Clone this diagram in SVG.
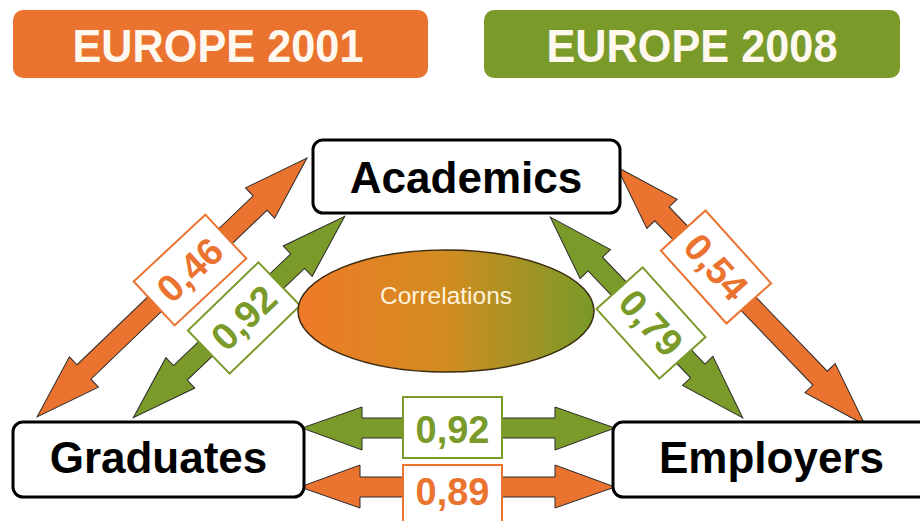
<svg xmlns="http://www.w3.org/2000/svg" width="920" height="521" viewBox="0 0 920 521">
<defs>
<linearGradient id="corr" x1="0" y1="0" x2="1" y2="0">
<stop offset="0" stop-color="#F07A28"/>
<stop offset="0.5" stop-color="#D28C20"/>
<stop offset="1" stop-color="#789A28"/>
</linearGradient>
</defs>
<style>
.hdr{font-family:"Liberation Sans",Arial,sans-serif;font-weight:bold;font-size:46px;fill:#FFF8EE;text-anchor:middle}
.node rect{fill:#FFFFFF;stroke:#000000;stroke-width:3}
.node text{font-family:"Liberation Sans",Arial,sans-serif;font-weight:bold;font-size:44px;fill:#000000;text-anchor:middle}
.arr{stroke:#2b2b2b;stroke-width:1;stroke-linejoin:miter}
.or{fill:#EB7330}
.gr{fill:#7A9A2A}
.lbl rect{fill:#FFFFFF;stroke-width:2}
.lbl text{font-family:"Liberation Sans",Arial,sans-serif;font-weight:bold;font-size:38px;text-anchor:middle}
.lo rect{stroke:#EB7330}
.lo text{fill:#EB7330}
.lg rect{stroke:#7A9A2A}
.lg text{fill:#7A9A2A}
</style>

<g id="header-2001">
<rect x="13" y="10" width="415" height="68" rx="10" fill="#EB7330"/>
<text class="hdr" x="218" y="62" textLength="291" lengthAdjust="spacingAndGlyphs">EUROPE 2001</text>
</g>
<g id="header-2008">
<rect x="484" y="10" width="416" height="68" rx="10" fill="#7A9A2A"/>
<text class="hdr" x="692" y="62" textLength="291" lengthAdjust="spacingAndGlyphs">EUROPE 2008</text>
</g>

<g id="connectors">
<!-- Graduates - Academics 2001 (orange) -->
<polygon class="arr or" transform="translate(172,287.5) rotate(-43.8)" points="-187,0 -122,-21 -122,-10 122,-10 122,-21 187,0 122,21 122,10 -122,10 -122,21"/>
<!-- Graduates - Academics 2008 (green) -->
<polygon class="arr gr" transform="translate(239,317) rotate(-43.6)" points="-146,0 -81,-21 -81,-10 81,-10 81,-21 146,0 81,21 81,10 -81,10 -81,21"/>
<!-- Academics - Employers 2008 (green) -->
<polygon class="arr gr" transform="translate(646.5,317.5) rotate(46.2)" points="-139,0 -74,-21 -74,-10 74,-10 74,-21 139,0 74,21 74,10 -74,10 -74,21"/>
<!-- Academics - Employers 2001 (orange) -->
<polygon class="arr or" transform="translate(741,296) rotate(46.1)" points="-179,0 -114,-21 -114,-10 114,-10 114,-21 179,0 114,21 114,10 -114,10 -114,21"/>
<!-- Graduates - Employers 2008 (green) -->
<polygon class="arr gr" points="302,428 362,407 362,418 555,418 555,407 615,428 555,450 555,438 362,438 362,450"/>
<!-- Graduates - Employers 2001 (orange) -->
<polygon class="arr or" points="300,487 360,465 360,477 555,477 555,465 615,487 555,508 555,497 360,497 360,508"/>

<g class="lbl lo" transform="translate(190,270) rotate(-43)">
<rect x="-49" y="-30" width="98" height="60"/>
<text x="0" y="13">0,46</text>
</g>
<g class="lbl lg" transform="translate(244,318) rotate(-44)">
<rect x="-49" y="-30" width="98" height="60"/>
<text x="0" y="13">0,92</text>
</g>
<g class="lbl lg" transform="translate(651,323) rotate(48)">
<rect x="-47" y="-31" width="94" height="62"/>
<text x="0" y="13">0,79</text>
</g>
<g class="lbl lo" transform="translate(716,267) rotate(48)">
<rect x="-49" y="-30" width="98" height="60"/>
<text x="0" y="13">0,54</text>
</g>
<g class="lbl lg">
<rect x="403" y="397" width="99" height="61"/>
<text x="452.5" y="443">0,92</text>
</g>
<g class="lbl lo">
<rect x="403" y="465" width="99" height="61"/>
<text x="452.5" y="505">0,89</text>
</g>
</g>

<g id="correlations">
<ellipse cx="446" cy="311" rx="148" ry="61" fill="url(#corr)" stroke="#3a2a10" stroke-width="1.5"/>
<text x="446" y="304" font-family="'Liberation Sans',Arial,sans-serif" font-size="24.5" fill="#FFF3DC" text-anchor="middle">Correlations</text>
</g>

<g id="academics" class="node">
<rect x="313" y="140" width="307" height="73" rx="10"/>
<text x="466" y="193">Academics</text>
</g>
<g id="graduates" class="node">
<rect x="13" y="422" width="291" height="75" rx="10"/>
<text x="158.5" y="473">Graduates</text>
</g>
<g id="employers" class="node">
<rect x="613" y="422" width="330" height="75" rx="10"/>
<text x="771.5" y="473">Employers</text>
</g>
</svg>
